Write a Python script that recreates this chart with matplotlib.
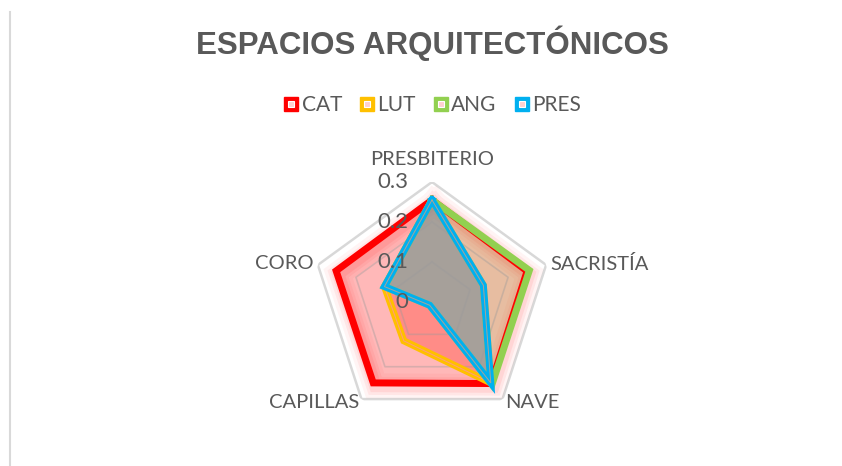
import numpy as np
import matplotlib
matplotlib.use('Agg')
import matplotlib.pyplot as plt
from matplotlib.lines import Line2D
from matplotlib.legend_handler import HandlerTuple
import matplotlib.transforms as mtransforms

categories = ['PRESBITERIO', 'SACRISTÍA', 'NAVE', 'CAPILLAS', 'CORO']
cat = [0.255, 0.25, 0.252, 0.25, 0.252]
lut = [0.255, 0.135, 0.25, 0.12, 0.125]
ang = [0.255, 0.256, 0.255, 0.01, 0.125]
pres = [0.255, 0.135, 0.25, 0.01, 0.125]
series_names = ['CAT', 'LUT', 'ANG', 'PRES']
ticks = [0, 0.1, 0.2, 0.3]

colors = ['#FF0000', '#FFC000', '#92D050', '#00B0F0']
# fill colours / alphas picked so the overlaps look like the original
fills = ['#FF0000', '#FF3A2C', '#92D050', '#00B0F0']
fill_alpha = [0.28, 0.35, 0.22, 0.28]
stripe = [None, '#FF9A80', None, '#A8A498']
gray = '#595959'
grid_c = '#D9D9D9'

W, H = 842, 466
fig = plt.figure(figsize=(W / 100, H / 100), dpi=100)
cx, cy, R = 432, 302, 120
ax = fig.add_axes([(cx - R) / W, (H - cy - R) / H, 2 * R / W, 2 * R / H], polar=True)
ax.set_theta_offset(np.pi / 2)
ax.set_theta_direction(-1)
ax.set_ylim(0, 0.3)
ax.axis('off')

n = len(categories)
angles = np.linspace(0, 2 * np.pi, n, endpoint=False)
ang_closed = np.append(angles, angles[0])

# soft shadow behind the polygons
shadow = mtransforms.offset_copy(ax.transData, fig=fig, x=2, y=-3, units='dots')
cat_c = np.append(cat, cat[0])
for lw, a in [(18, 0.05), (13, 0.07), (9, 0.09)]:
    ax.plot(ang_closed, cat_c, color='#FF3030', lw=lw, alpha=a,
            transform=shadow, zorder=2, solid_joinstyle='miter')

data = [cat, lut, ang, pres]
for i, vals in enumerate(data):
    v = np.append(vals, vals[0])
    ax.fill(ang_closed, v, color=fills[i], alpha=fill_alpha[i], zorder=3 + i, lw=0)

# pentagon grid (seen through the fills)
for t in ticks[1:]:
    ax.plot(ang_closed, [t] * (n + 1), color='#9A9A9A', alpha=0.38,
            lw=1.8 if t == 0.3 else 1.2, zorder=8)

for i, vals in enumerate(data):
    v = np.append(vals, vals[0])
    ax.plot(ang_closed, v, color=colors[i], lw=5, zorder=10 + 2 * i,
            solid_joinstyle='miter')
    if stripe[i]:
        ax.plot(ang_closed, v, color=stripe[i], lw=0.7, zorder=11 + 2 * i,
                solid_joinstyle='miter')

# radial tick labels
for t in ticks:
    ax.annotate(f'{t:g}', xy=(0, t), xytext=(-17, 0), textcoords='offset points',
                ha='right', va='center', fontsize=16, color=gray,
                family='Lato', zorder=30)

# category labels
lab_kw = dict(fontsize=14.5, color=gray, family='Lato')
ax.text(angles[0], 0.335, categories[0], ha='center', va='bottom', **lab_kw)
ax.text(angles[1], 0.31, categories[1], ha='left', va='center', **lab_kw)
ax.text(angles[2], 0.31, categories[2], ha='left', va='center', **lab_kw)
ax.text(angles[3], 0.31, categories[3], ha='right', va='center', **lab_kw)
ax.text(angles[4], 0.31, categories[4], ha='right', va='center', **lab_kw)

# title
fig.text(cx / W, 1 - 54 / H, 'ESPACIOS ARQUITECTÓNICOS', ha='center', va='baseline',
         fontsize=22.5, fontweight='bold', color=gray, family='Liberation Sans')

# legend
handles = []
for i in range(4):
    outer_m = Line2D([], [], ls='none', marker='s', ms=10, mfc=colors[i], mec=colors[i])
    inner_m = Line2D([], [], ls='none', marker='s', ms=4.5, mfc='#FFD0D0', mec='white', mew=0.8)
    handles.append((outer_m, inner_m))
fig.legend(handles, series_names, loc='center', bbox_to_anchor=(cx / W, 1 - 105 / H),
           ncol=4, frameon=False, handler_map={tuple: HandlerTuple(ndivide=1)},
           handlelength=0.8, handletextpad=0.1, columnspacing=0.8,
           prop={'family': 'Lato', 'size': 15}, labelcolor=gray)

# left border of the chart area
fig.add_artist(Line2D([10 / W, 10 / W], [0, 1 - 12 / H], color=grid_c, lw=1.5))

fig.savefig('out.png', dpi=100)
